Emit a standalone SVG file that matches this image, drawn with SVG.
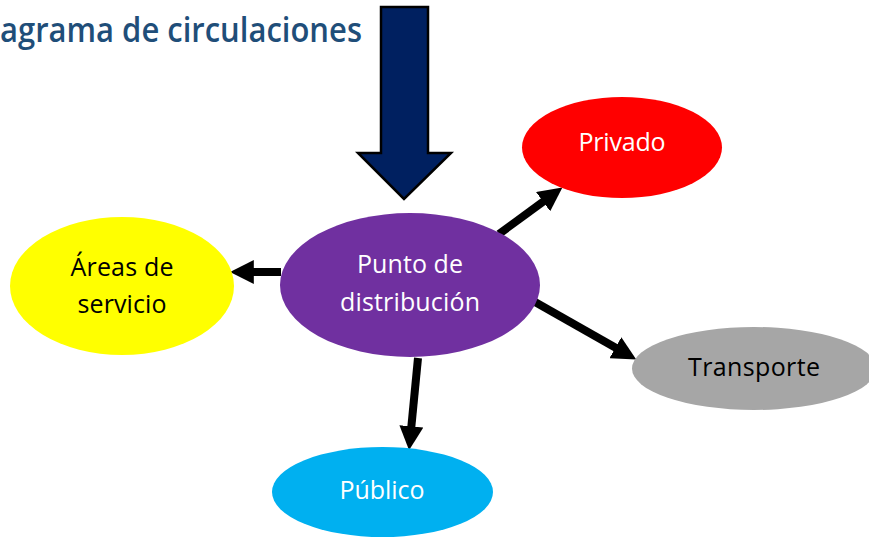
<svg xmlns="http://www.w3.org/2000/svg" width="869" height="537" viewBox="0 0 869 537">
<defs>
<style>
.lbl{font-family:"Open Sans","Noto Sans",sans-serif;font-size:25px;text-anchor:middle}
.w{fill:#ffffff}
.k{fill:#000000}
.conn{stroke:#000000;stroke-width:8;fill:none}
</style>
<marker id="ah" viewBox="0 0 3 3" refX="0.1" refY="1.5" markerWidth="3" markerHeight="3" markerUnits="strokeWidth" orient="auto">
<path d="M0,0 L3,1.5 L0,3 z" fill="#000000"/>
</marker>
</defs>
<rect width="869" height="537" fill="#ffffff"/>
<text id="title" x="0" y="42" font-family="'Open Sans','Noto Sans',sans-serif" font-size="34" font-weight="600" fill="#1F4E79" textLength="362" lengthAdjust="spacingAndGlyphs">agrama de circulaciones</text>
<g id="entry-arrow">
<polygon points="381,7 428,7 428,153 451,153 404,199 358,153 381,153" fill="#002060" stroke="#000000" stroke-width="2.5"/>
</g>
<g id="connectors">
<path class="conn" d="M281,272 L253,272" marker-end="url(#ah)"/>
<path class="conn" d="M499,234 L543.7,201.2" marker-end="url(#ah)"/>
<path class="conn" d="M535,302 L616.1,348.1" marker-end="url(#ah)"/>
<path class="conn" d="M418,358 L411.3,427.1" marker-end="url(#ah)"/>
</g>
<g id="node-distribucion">
<ellipse cx="410" cy="285" rx="130" ry="72" fill="#7030A0"/>
<text class="lbl w" x="410" y="273" textLength="106" lengthAdjust="spacing">Punto de</text>
<text class="lbl w" x="410" y="311" textLength="140" lengthAdjust="spacing">distribución</text>
</g>
<g id="node-privado">
<ellipse cx="622" cy="147.5" rx="100" ry="50.5" fill="#FF0000"/>
<text class="lbl w" x="622" y="151" textLength="87" lengthAdjust="spacing">Privado</text>
</g>
<g id="node-servicio">
<ellipse cx="122" cy="286" rx="112" ry="69" fill="#FFFF00"/>
<text class="lbl k" x="122" y="276" textLength="103" lengthAdjust="spacing">Áreas de</text>
<text class="lbl k" x="122" y="313" textLength="89" lengthAdjust="spacing">servicio</text>
</g>
<g id="node-transporte">
<ellipse cx="754" cy="368.5" rx="122" ry="41.5" fill="#A6A6A6"/>
<text class="lbl k" x="754" y="376" textLength="132" lengthAdjust="spacing">Transporte</text>
</g>
<g id="node-publico">
<ellipse cx="382.5" cy="492" rx="110.5" ry="45" fill="#00B0F0"/>
<text class="lbl w" x="382" y="499" textLength="85" lengthAdjust="spacing">Público</text>
</g>
</svg>
